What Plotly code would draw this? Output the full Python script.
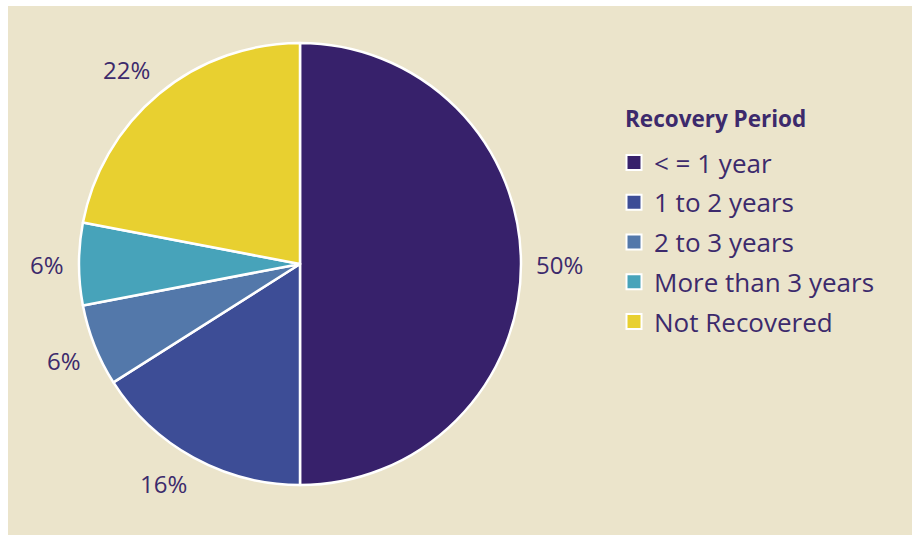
import math
import plotly.graph_objects as go

categories = ["< = 1 year", "1 to 2 years", "2 to 3 years", "More than 3 years", "Not Recovered"]
values = [50, 16, 6, 6, 22]
colors = ["#37216b", "#3d4d96", "#5378aa", "#47a3ba", "#e8d030"]
legend_title = "Recovery Period"

W, H = 912, 535
ML, MT = 8, 6
PW, PH = W - ML, H - MT
TEXT = "#3c2a6c"
FONT = "Open Sans"

# pie geometry in pixels
cx, cy, R = 300, 264, 221


def px_to_paper(x, y):
    return (x - ML) / PW, (H - y) / PH


x0, y0 = px_to_paper(cx - R, cy + R)
x1, y1 = px_to_paper(cx + R, cy - R)

fig = go.Figure()
fig.add_trace(go.Pie(
    labels=categories, values=values, sort=False, direction="clockwise",
    rotation=0, marker=dict(colors=colors, line=dict(color="white", width=2.5)),
    textinfo="none", hoverinfo="label+percent", showlegend=False,
    domain=dict(x=[x0, x1], y=[y0, y1]),
))

# legend via dummy traces
for i, (c, col) in enumerate(zip(categories, colors)):
    fig.add_trace(go.Scatter(
        x=[None], y=[None], mode="markers", name=c, legendgroup=f"g{i}",
        marker=dict(symbol="square", size=15, color=col, line=dict(color="white", width=2)),
    ))

# percentage labels, placed outside the slice edge (box corner at fixed gap)
total = sum(values)
cum = 0
annotations = []
gap = 15
for v in values:
    mid = (cum + v / 2) / total * 2 * math.pi
    cum += v
    txt = f"{round(v / total * 100)}%"
    hw = ((len(txt) - 1) * 13.5 + 20) / 2
    hh = 13
    dx, dy = math.sin(mid), -math.cos(mid)
    lx = cx + (R + gap) * dx + hw * math.copysign(min(1, abs(dx) * 2), dx)
    ly = cy + (R + gap) * dy + hh * math.copysign(min(1, abs(dy) * 2), dy)
    ax, ay = px_to_paper(lx, ly)
    annotations.append(dict(
        x=ax, y=ay, xref="paper", yref="paper", text=txt,
        showarrow=False, xanchor="center", yanchor="middle",
        font=dict(family=FONT, size=24, color=TEXT),
    ))

tx, ty = px_to_paper(623, 118)
annotations.append(dict(
    x=tx, y=ty, xref="paper", yref="paper", text=f"<b>{legend_title}</b>",
    showarrow=False, xanchor="left", yanchor="middle",
    font=dict(family=FONT, size=22.5, color=TEXT),
))

fig.update_layout(
    width=W, height=H,
    margin=dict(l=ML, r=0, t=MT, b=0),
    paper_bgcolor="white", plot_bgcolor="#ebe4cb",
    xaxis=dict(visible=False, range=[0, 1], fixedrange=True),
    yaxis=dict(visible=False, range=[0, 1], fixedrange=True),
    annotations=annotations,
    showlegend=True,
    legend=dict(
        x=(614 - ML) / PW, y=(H - 139) / PH, xanchor="left", yanchor="top",
        bgcolor="rgba(0,0,0,0)", tracegroupgap=3,
        font=dict(family=FONT, size=26, color=TEXT),
    ),
)

fig.write_html("out.html")
